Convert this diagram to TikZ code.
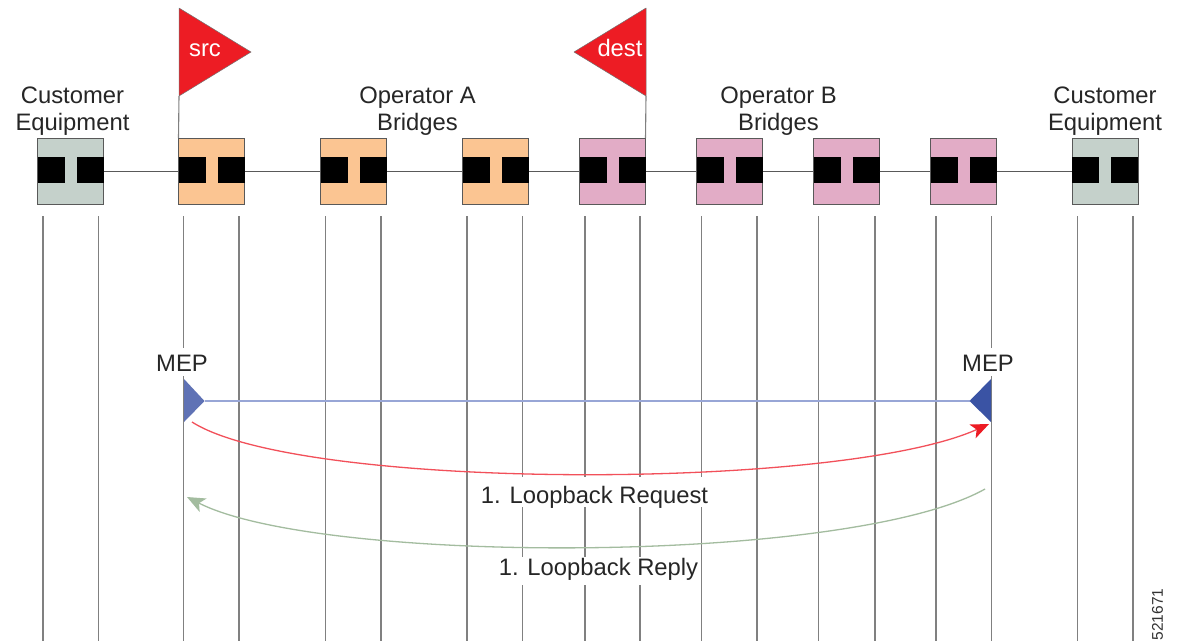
\documentclass[tikz,border=0pt]{standalone}
\usepackage{fontspec}
\setmainfont{Liberation Sans}
\usetikzlibrary{arrows.meta}
\definecolor{custfill}{HTML}{C5D1CB}
\definecolor{opafill}{HTML}{FBC592}
\definecolor{opbfill}{HTML}{E2ACC6}
\definecolor{flagred}{HTML}{ED1C24}
\definecolor{mepl}{HTML}{5F72B5}
\definecolor{mepr}{HTML}{3A53A4}
\definecolor{lnkblue}{HTML}{98A6D6}
\definecolor{reqred}{HTML}{F2505A}
\definecolor{repgreen}{HTML}{A3BC9F}
\newcommand{\bridge}[3]{%
  \node[bridgebox,fill=#3] (#1) at (#2,171.2) {};
  \node[portbox,anchor=west,yshift=1.3pt] (#1l) at (#1.west) {};
  \node[portbox,anchor=east,yshift=1.3pt] (#1r) at (#1.east) {};
}
\newcommand{\lifeln}[2]{%
  \coordinate (#1t) at (#2,216);
  \coordinate (#1b) at (#2,641);
  \draw[lifeline] (#1t) -- (#1b);
}
\tikzset{
  x=1pt,y=-1pt,
  bridgebox/.style={draw=black!65,line width=0.9pt,minimum width=66pt,minimum height=66pt,inner sep=0pt,outer sep=0pt},
  portbox/.style={fill=black,minimum width=27pt,minimum height=25.5pt,inner sep=0pt,outer sep=0pt},
  wire/.style={draw=black!65,line width=1pt},
  pole/.style={draw=black!50,line width=1.1pt},
  lifeline/.style={draw=black!50,line width=1.1pt},
  flagshape/.style={fill=flagred,draw=black!55,line width=0.5pt,line join=round},
  lbl/.style={font=\fontsize{23.8}{27}\selectfont,text=black!85,align=center,inner sep=0pt},
  flaglbl/.style={font=\fontsize{23.8}{26}\selectfont,text=white,inner sep=0pt,anchor=base},
  gaplbl/.style={font=\fontsize{23.8}{26}\selectfont,text=black!85,inner xsep=1pt,inner ysep=1pt,fill=white,anchor=base},
  curve/.style={line width=1.3pt},
  curvetip/.style={-{Stealth[length=18pt,width=15pt,inset=4.5pt,#1]}},
}
\begin{document}
\begin{tikzpicture}
\useasboundingbox (0,0) rectangle (1180,641);
\fill[white] (0,0) rectangle (1180,641);
% lifelines
\lifeln{a}{43}\lifeln{b}{98.5}
\lifeln{c}{183.5}\lifeln{d}{239}
\lifeln{e}{325.5}\lifeln{f}{381}
\lifeln{g}{467}\lifeln{h}{522.5}
\lifeln{i}{585}\lifeln{j}{640}
\lifeln{k}{701.5}\lifeln{l}{757}
\lifeln{m}{818.5}\lifeln{n}{875}
\lifeln{o}{936}\lifeln{p}{991.5}
\lifeln{q}{1077.5}\lifeln{r}{1133}
% bridges
\bridge{ce1}{70.5}{custfill}
\bridge{a1}{211.5}{opafill}
\bridge{a2}{353.5}{opafill}
\bridge{a3}{495.5}{opafill}
\bridge{b1}{612.5}{opbfill}
\bridge{b2}{729.5}{opbfill}
\bridge{b3}{846.5}{opbfill}
\bridge{b4}{963.5}{opbfill}
\bridge{ce2}{1105}{custfill}
\foreach \p/\q in {ce1/a1,a1/a2,a2/a3,a3/b1,b1/b2,b2/b3,b3/b4,b4/ce2}
  \draw[wire] (\p.east) -- (\q.west);
% flags
\coordinate (sf1) at (179,8);
\coordinate (sf2) at (251,52);
\coordinate (sf3) at (179,96);
\coordinate (df1) at (646,8);
\coordinate (df2) at (574,52);
\coordinate (df3) at (646,96);
\draw[pole] (sf3) -- (a1.north west);
\draw[pole] (df3) -- (b1.north east);
\draw[flagshape] (sf1) -- (sf2) -- (sf3) -- cycle;
\draw[flagshape] (df1) -- (df2) -- (df3) -- cycle;
\node[flaglbl] (src) at (205,56.7) {src};
\node[flaglbl] (dest) at (620,56.7) {dest};
% labels
\node[lbl] (lce1) at (72.5,110.7) {Customer\\Equipment};
\node[lbl] (lopa) at (417.5,110.7) {Operator A\\Bridges};
\node[lbl] (lopb) at (778.5,110.7) {Operator B\\Bridges};
\node[lbl] (lce2) at (1105,110.7) {Customer\\Equipment};
% MEPs
\node[gaplbl,text height=23pt,text depth=3pt] (mepa) at (182,371.5) {MEP};
\node[gaplbl,text height=23pt,text depth=3pt] (mepb) at (988,371.5) {MEP};
\coordinate (ml1) at (184,379);
\coordinate (ml2) at (204.5,401);
\coordinate (ml3) at (184,422);
\coordinate (mr1) at (991,379);
\coordinate (mr2) at (969.5,401);
\coordinate (mr3) at (991,422);
\draw[lnkblue,line width=1.1pt] (ml2) -- (mr2);
\fill[mepl] (ml1) -- (ml2) -- (ml3) -- cycle;
\fill[mepr] (mr1) -- (mr2) -- (mr3) -- cycle;
% curves
\coordinate (rs) at (192,422);
\coordinate (re) at (989,424);
\coordinate (gs) at (985,489);
\coordinate (ge) at (187,497);
\draw[curve,reqred,curvetip=flagred] (rs) .. controls (300,491) and (840,491) .. (re);
\draw[curve,repgreen,curvetip=repgreen] (gs) .. controls (850,565) and (320,565) .. (ge);
\node[gaplbl,text height=25pt,text depth=3pt] (lreq) at (594.5,503) {1. Loopback Request};
\node[gaplbl,text height=17pt,text depth=9pt] (lrep) at (598.5,575) {1. Loopback Reply};
\node[font=\fontsize{15.5}{17}\selectfont,text=black!80,rotate=90,inner sep=0pt] (num) at (1157.5,614.5) {521671};
\end{tikzpicture}
\end{document}
